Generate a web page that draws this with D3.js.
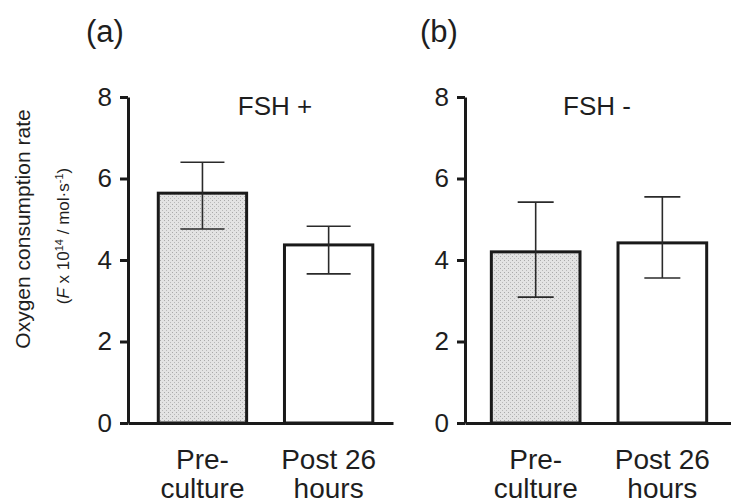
<!DOCTYPE html>
<html lang="en">
<head>
<meta charset="utf-8">
<title>Oxygen consumption rate</title>
<script src="https://d3js.org/d3.v7.min.js"></script>
<style>
  body { margin: 0; background: #fff; }
  text { font-family: "Liberation Sans", Arial, Helvetica, sans-serif; fill: #1e1e1e; }
</style>
</head>
<body>
<div id="chart"></div>
<script>
// data
var categories = ["Pre-culture", "Post 26 hours"];
var catLines = [["Pre-", "culture"], ["Post 26", "hours"]];
var panelNames = ["(a)", "(b)"];
var panelTitles = ["FSH +", "FSH -"];
var meanA = [5.64, 4.37];
var upperA = [6.40, 4.83];
var lowerA = [4.76, 3.66];
var meanB = [4.20, 4.42];
var upperB = [5.42, 5.55];
var lowerB = [3.09, 3.56];
var yTicks = [0, 2, 4, 6, 8];

var W = 731, H = 503;
var svg = d3.select("#chart").append("svg")
    .attr("width", W).attr("height", H);

// stippled grey fill for the pre-culture bars
var pat = svg.append("defs").append("pattern")
    .attr("id", "stipple").attr("patternUnits", "userSpaceOnUse")
    .attr("width", 4).attr("height", 4);
pat.append("rect").attr("width", 4).attr("height", 4).attr("fill", "#e3e3e3");
pat.append("rect").attr("x", 0).attr("y", 0).attr("width", 1).attr("height", 1).attr("fill", "#a9a9a9");
pat.append("rect").attr("x", 2).attr("y", 2).attr("width", 1).attr("height", 1).attr("fill", "#b8b8b8");

var y = d3.scaleLinear().domain([0, 8]).range([423, 97]);

function drawPanel(p) {
  var g = svg.append("g");
  var x = d3.scaleBand().domain(categories)
      .range([p.x0, p.x1])
      .paddingInner(0.3).paddingOuter(0.2).align(p.align);

  var rows = categories.map((c, i) => ({cat: c, m: p.mean[i], hi: p.upper[i], lo: p.lower[i], i: i}));

  // bars
  g.selectAll("rect.bar").data(rows).enter().append("rect")
      .attr("class", "bar")
      .attr("x", d => x(d.cat))
      .attr("y", d => y(d.m))
      .attr("width", x.bandwidth())
      .attr("height", d => y(0) - y(d.m))
      .attr("fill", d => d.i == 0 ? "url(#stipple)" : "#fff")
      .attr("stroke", "#1a1a1a").attr("stroke-width", 3);

  // error bars
  var eb = g.selectAll("g.err").data(rows).enter().append("g")
      .attr("class", "err")
      .attr("stroke", "#2a2a2a").attr("stroke-width", 1.6);
  eb.append("line")
      .attr("x1", d => x(d.cat) + x.bandwidth() / 2).attr("x2", d => x(d.cat) + x.bandwidth() / 2)
      .attr("y1", d => y(d.hi)).attr("y2", d => y(d.lo));
  eb.append("line")
      .attr("x1", d => x(d.cat) + x.bandwidth() / 2 - p.cap / 2).attr("x2", d => x(d.cat) + x.bandwidth() / 2 + p.cap / 2)
      .attr("y1", d => y(d.hi)).attr("y2", d => y(d.hi));
  eb.append("line")
      .attr("x1", d => x(d.cat) + x.bandwidth() / 2 - p.cap / 2).attr("x2", d => x(d.cat) + x.bandwidth() / 2 + p.cap / 2)
      .attr("y1", d => y(d.lo)).attr("y2", d => y(d.lo));

  // axes
  var ya = g.append("g")
      .attr("transform", "translate(" + p.x0 + ",0)")
      .call(d3.axisLeft(y).tickValues(yTicks).tickSize(8).tickSizeOuter(0).tickPadding(8));
  ya.select(".domain").attr("stroke", "#1a1a1a").attr("stroke-width", 3);
  ya.selectAll(".tick line").attr("stroke", "#1a1a1a").attr("stroke-width", 3);
  ya.selectAll(".tick text").style("font-size", "26px").attr("fill", "#1e1e1e")
      .style("font-family", "'Liberation Sans', Arial, sans-serif");

  var xa = g.append("g")
      .attr("transform", "translate(0," + y(0) + ")")
      .call(d3.axisBottom(x).tickSize(0).tickSizeOuter(0).tickFormat(""));
  xa.select(".domain").attr("stroke", "#1a1a1a").attr("stroke-width", 3);

  // category labels
  var lab = g.selectAll("text.cat").data(rows).enter().append("text")
      .attr("class", "cat")
      .attr("text-anchor", "middle")
      .style("font-size", "28px");
  lab.append("tspan")
      .attr("x", d => x(d.cat) + x.bandwidth() / 2).attr("y", 469)
      .text(d => catLines[d.i][0]);
  lab.append("tspan")
      .attr("x", d => x(d.cat) + x.bandwidth() / 2).attr("y", 498)
      .text(d => catLines[d.i][1]);

  g.append("text").attr("x", p.nameX).attr("y", 42)
      .style("font-size", "31px").text(p.name);
  g.append("text").attr("x", p.titleX).attr("y", 115)
      .attr("text-anchor", "middle")
      .style("font-size", "26px").text(p.title);
}

drawPanel({x0: 128, x1: 393, align: 0.6, cap: 44, nameX: 86, titleX: 275,
           name: panelNames[0], title: panelTitles[0], mean: meanA, upper: upperA, lower: lowerA});
drawPanel({x0: 465, x1: 731, align: 0.52, cap: 36, nameX: 420, titleX: 597,
           name: panelNames[1], title: panelTitles[1], mean: meanB, upper: upperB, lower: lowerB});

// y axis title, two lines
svg.append("text")
    .attr("transform", "translate(30,229) rotate(-90)")
    .attr("text-anchor", "middle")
    .style("font-size", "21px")
    .text("Oxygen consumption rate");

var yt2 = svg.append("text")
    .attr("transform", "translate(69,236) rotate(-90)")
    .attr("text-anchor", "middle")
    .style("font-size", "17px");
yt2.append("tspan").text("(");
yt2.append("tspan").style("font-style", "italic").text("F");
yt2.append("tspan").text(" x 10");
yt2.append("tspan").attr("dy", -6).style("font-size", "11px").text("14");
yt2.append("tspan").attr("dy", 6).text(" / mol\u00b7s");
yt2.append("tspan").attr("dy", -6).style("font-size", "11px").text("-1");
yt2.append("tspan").attr("dy", 6).text(")");
</script>
</body>
</html>
